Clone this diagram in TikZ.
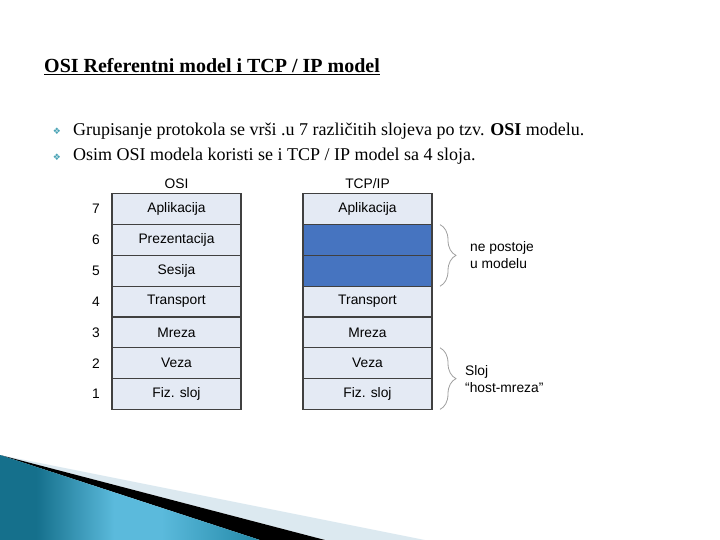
\documentclass[tikz,border=0pt]{standalone}
\usepackage{fontspec}
\setmainfont{Liberation Serif}
\newfontfamily\arialfont{Liberation Sans}
\newfontfamily\symfont{DejaVu Sans}
\usepackage{xcolor}
\usetikzlibrary{positioning,decorations.pathreplacing}

\definecolor{layerlight}{HTML}{E4EAF4}
\definecolor{layerdark}{HTML}{4674C0}
\definecolor{layerline}{HTML}{404040}
\definecolor{bulletteal}{HTML}{4AA3B5}
\definecolor{waveteal}{HTML}{15708C}
\definecolor{wavelight}{HTML}{5BBADC}
\definecolor{wavemid}{HTML}{2389A8}
\definecolor{bandlight}{HTML}{DCE9F0}

\pgfdeclarehorizontalshading{wave}{100bp}{
  color(0bp)=(waveteal); color(32bp)=(waveteal); color(47bp)=(wavelight); color(56bp)=(wavelight); color(75bp)=(wavemid); color(100bp)=(wavemid)}

\tikzset{
  layer/.style={draw=layerline, line width=1.3pt, fill=layerlight, minimum width=129pt,
    minimum height=30.8pt, inner sep=0pt, outer sep=0pt, font=\arialfont\fontsize{13.8}{16}\selectfont},
  nolayer/.style={layer, fill=layerdark},
  num/.style={inner sep=0pt, font=\arialfont\fontsize{13.8}{16}\selectfont},
  side/.style={inner sep=0pt, anchor=west, align=left, font=\arialfont\fontsize{13.8}{17}\selectfont},
  brc/.style={decorate, decoration={brace, amplitude=16pt}, draw=gray!75, line width=0.8pt},
  item/.style={inner sep=0pt, anchor=base west, font=\fontsize{18}{20}\selectfont},
  bulletmark/.style={inner sep=0pt, text=bulletteal, font=\symfont\fontsize{9}{10}\selectfont}
}

\begin{document}
\begin{tikzpicture}[x=1pt, y=-1pt]
    \useasboundingbox (0,0) rectangle (720,540);

    % Bottom corner
    \fill [bandlight] (0,455) -- (425,540) -- (325,540) -- cycle;
    \fill [black] (0,455) -- (325,540) -- (260,540) -- cycle;
    \shade [shading=wave, shading angle=0] (0,455) -- (260,540) -- (0,540) -- cycle;

    % Title and bullets
    \node [inner sep=0pt, anchor=base west, font=\bfseries\fontsize{20}{22}\selectfont] (title) at (44,73)
      {\underline{OSI Referentni model i TCP / IP model}};
    \node [bulletmark] (mark1) at (57,131) {❖};
    \node [bulletmark] (mark2) at (57,157) {❖};
    \node [item] (item1) at (73,136) {Grupisanje protokola se vrši .u 7 različitih slojeva po tzv. \textbf{OSI} modelu.};
    \node [item] (item2) at (73,161) {Osim OSI modela koristi se i TCP / IP model sa 4 sloja.};

    % OSI
    \node [layer] (osi7) at (176.5,209.2) {Aplikacija};
    \node [layer, below=0pt of osi7] (osi6) {Prezentacija};
    \node [layer, below=0pt of osi6] (osi5) {Sesija};
    \node [layer, below=0pt of osi5] (osi4) {Transport};
    \node [layer, below=0pt of osi4] (osi3) {Mreza};
    \node [layer, below=0pt of osi3] (osi2) {Veza};
    \node [layer, below=0pt of osi2] (osi1) {Fiz. sloj};
    \node [num, above=5pt of osi7] (osihead) {OSI};

    % Numbers
    \node [num, left=12pt of osi7] (n7) {7};
    \node [num, left=12pt of osi6] (n6) {6};
    \node [num, left=12pt of osi5] (n5) {5};
    \node [num, left=12pt of osi4] (n4) {4};
    \node [num, left=12pt of osi3] (n3) {3};
    \node [num, left=12pt of osi2] (n2) {2};
    \node [num, left=12pt of osi1] (n1) {1};

    % TCP/IP
    \node [layer, right=62pt of osi7] (tcp7) {Aplikacija};
    \node [nolayer, below=0pt of tcp7] (tcp6) {};
    \node [nolayer, below=0pt of tcp6] (tcp5) {};
    \node [layer, below=0pt of tcp5] (tcp4) {Transport};
    \node [layer, below=0pt of tcp4] (tcp3) {Mreza};
    \node [layer, below=0pt of tcp3] (tcp2) {Veza};
    \node [layer, below=0pt of tcp2] (tcp1) {Fiz. sloj};
    \node [num, above=5pt of tcp7] (tcphead) {TCP/IP};

    % Braces
    \draw [brc] ([xshift=8pt]tcp6.north east) -- ([xshift=8pt]tcp5.south east);
    \draw [brc] ([xshift=8pt]tcp2.north east) -- ([xshift=8pt]tcp1.south east);
    \node [side] (gone) at ([xshift=38pt]tcp6.south east) {ne postoje\\u modelu};
    \node [side] (hostnet) at ([xshift=33pt]tcp2.south east) {Sloj\\“host-mreza”};
  \end{tikzpicture}
\end{document}
